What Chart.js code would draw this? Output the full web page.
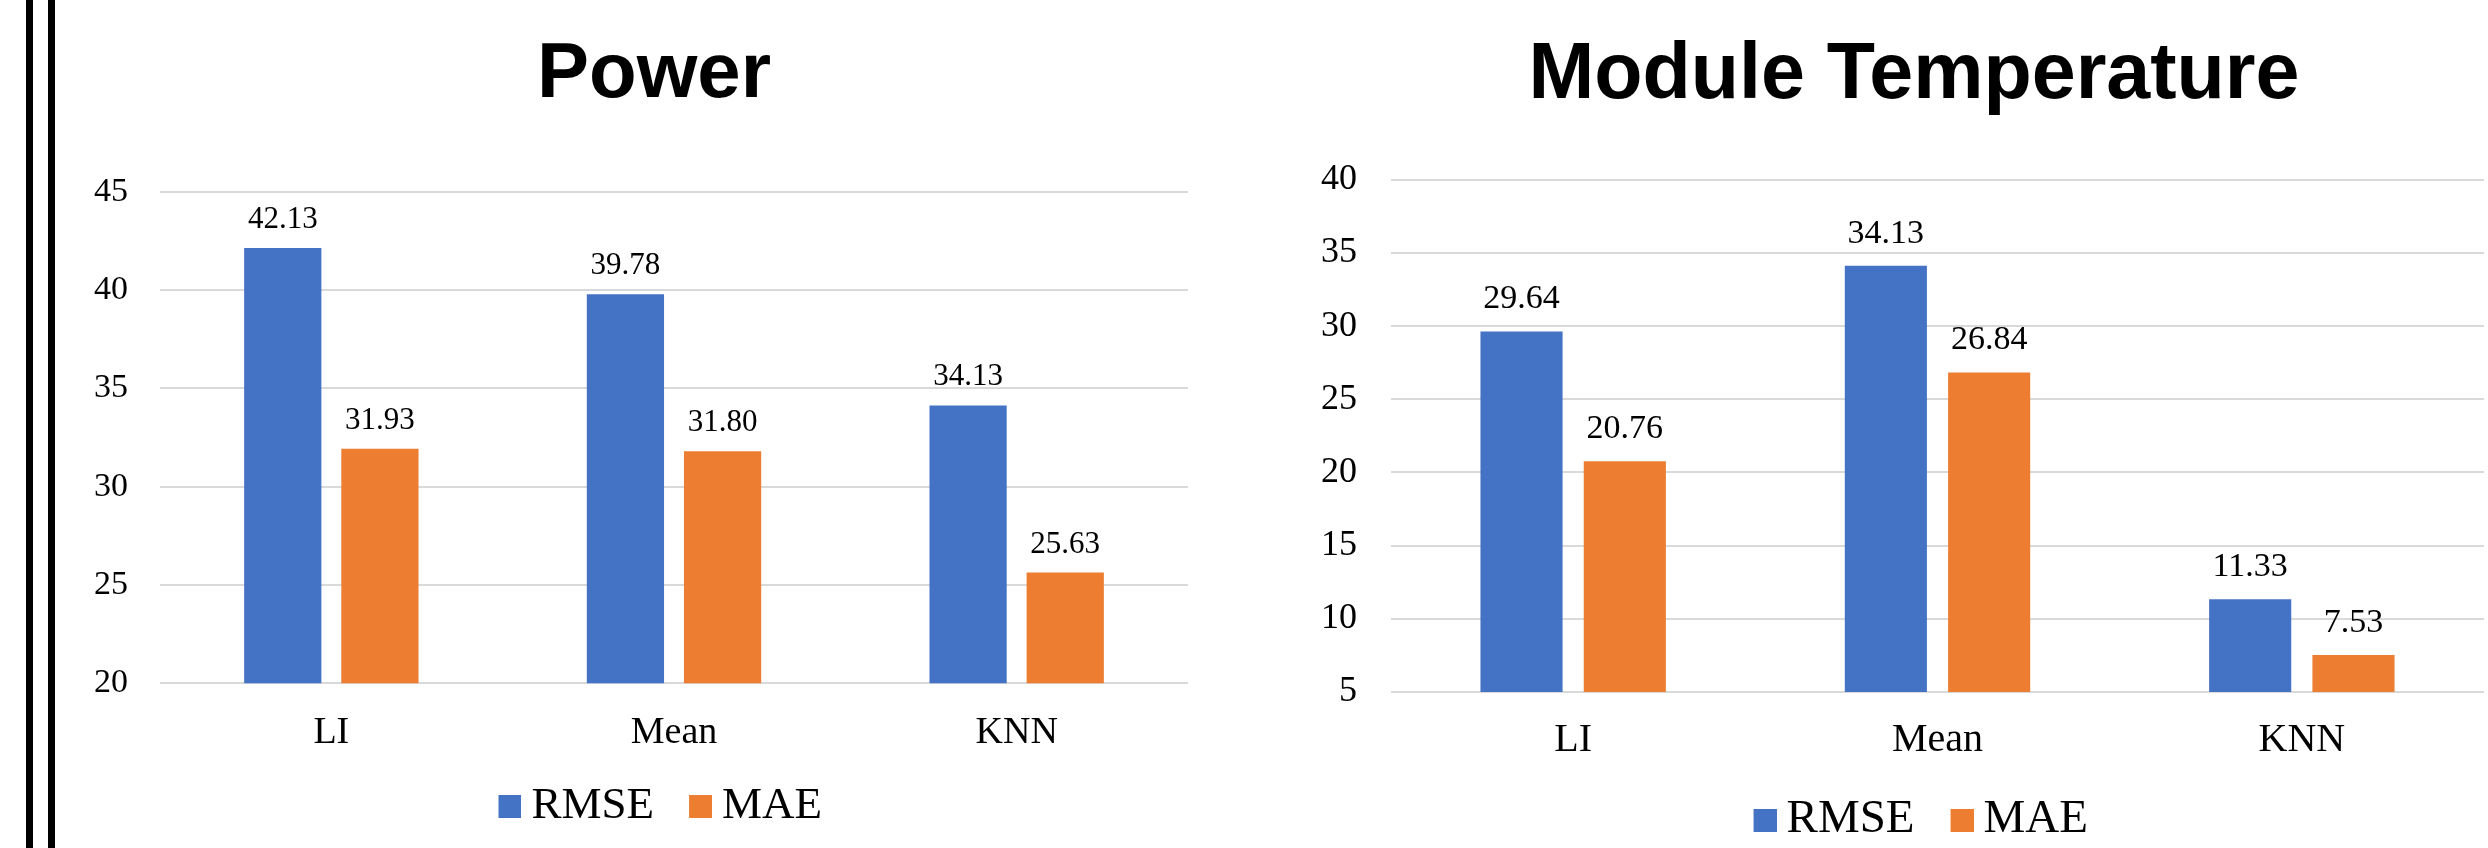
<!DOCTYPE html>
<html>
<head>
<meta charset="utf-8">
<script src="https://cdn.jsdelivr.net/npm/chart.js@4.4.0/dist/chart.umd.min.js"></script>
<style>
  html, body { margin: 0; padding: 0; background: #fff; }
  body { width: 2488px; height: 848px; position: relative; overflow: hidden; }
  .rule { position: absolute; top: 0; width: 7px; height: 848px; background: #000; }
  canvas { position: absolute; top: 0; }
</style>
</head>
<body>
<div class="rule" style="left:26px"></div>
<div class="rule" style="left:48px"></div>
<canvas id="power" width="1308" height="848" style="left:0"></canvas>
<canvas id="temp" width="1228" height="856" style="left:1300px"></canvas>
<script>
// Error metrics of the three imputation methods
const categories = ['LI', 'Mean', 'KNN'];
const seriesNames = ['RMSE', 'MAE'];

const powerRMSE = [42.13, 39.78, 34.13];
const powerMAE  = [31.93, 31.80, 25.63];
const powerTicks = [20, 25, 30, 35, 40, 45];

const tempRMSE = [29.64, 34.13, 11.33];
const tempMAE  = [20.76, 26.84, 7.53];
const tempTicks = [5, 10, 15, 20, 25, 30, 35, 40];

const seriesColors = ['#4472C4', '#ED7D31'];
const SERIF = "'Liberation Serif', 'Times New Roman', serif";
const SANS = "'Liberation Sans', Arial, sans-serif";
const SWATCH = 23;

// Legend swatch: a small square pushed to the right so it sits close to its text
function legendSwatch(color, fontSize) {
  const c = document.createElement('canvas');
  c.width = fontSize + 3;
  c.height = SWATCH;
  const g = c.getContext('2d');
  g.fillStyle = color;
  g.fillRect(c.width - SWATCH, 0, SWATCH, SWATCH);
  return c;
}

// Writes each bar's value just above it
const valueLabels = {
  id: 'valueLabels',
  afterDatasetsDraw(chart, args, opts) {
    const ctx = chart.ctx;
    ctx.save();
    ctx.font = opts.size + 'px ' + SERIF;
    ctx.fillStyle = '#000';
    ctx.textAlign = 'center';
    ctx.textBaseline = 'alphabetic';
    chart.data.datasets.forEach((ds, i) => {
      chart.getDatasetMeta(i).data.forEach((bar, j) => {
        ctx.fillText(ds.data[j].toFixed(2), bar.x, bar.y - opts.gap);
      });
    });
    ctx.restore();
  }
};

function buildChart(id, title, rmse, mae, ticks, s) {
  const swatches = seriesColors.map(c => legendSwatch(c, s.legendFont));
  return new Chart(document.getElementById(id), {
    type: 'bar',
    data: {
      labels: categories,
      datasets: [
        { label: seriesNames[0], data: rmse, backgroundColor: seriesColors[0], yAxisID: 'y' },
        { label: seriesNames[1], data: mae, backgroundColor: seriesColors[1], yAxisID: 'y' }
      ]
    },
    options: {
      responsive: false,
      animation: false,
      devicePixelRatio: 1,
      categoryPercentage: 0.567,
      barPercentage: 0.795,
      layout: { padding: { left: 0, right: 0, top: 0, bottom: s.padBottom } },
      scales: {
        x: {
          grid: { display: false, drawTicks: false },
          border: { display: false },
          ticks: { color: '#000', padding: s.xPad, font: { family: SERIF, size: s.xFont } },
          afterFit(scale) { scale.height = s.xHeight; }
        },
        y: {
          min: ticks[0],
          max: ticks[ticks.length - 1],
          grid: { color: '#D9D9D9', lineWidth: 2, drawTicks: false },
          border: { display: false },
          ticks: { stepSize: ticks[1] - ticks[0], color: '#000', padding: s.yPad,
                   font: { family: SERIF, size: s.yFont } },
          afterFit(scale) { scale.width = s.yWidth; }
        },
        // empty margin on the right so the title and legend sit where they should
        side: {
          type: 'linear',
          position: 'right',
          grid: { display: false, drawTicks: false },
          border: { display: false },
          ticks: { display: false },
          afterFit(scale) { scale.width = s.sideWidth; }
        }
      },
      plugins: {
        title: {
          display: true,
          text: title,
          color: '#000',
          font: { family: SANS, size: s.titleFont, weight: 'bold', lineHeight: 1.2 },
          padding: { top: 29, bottom: s.titleBottom }
        },
        legend: {
          position: 'bottom',
          labels: {
            color: '#000',
            usePointStyle: true,
            boxWidth: SWATCH,
            boxHeight: SWATCH,
            padding: 22.5,
            font: { family: SERIF, size: s.legendFont },
            generateLabels(chart) {
              const items = Chart.defaults.plugins.legend.labels.generateLabels(chart);
              items.forEach((item, i) => { item.pointStyle = swatches[i]; });
              return items;
            }
          }
        },
        tooltip: { enabled: false },
        valueLabels: { size: s.valueFont, gap: s.valueGap }
      }
    },
    plugins: [valueLabels]
  });
}

buildChart('power', 'Power', powerRMSE, powerMAE, powerTicks, {
  padBottom: 9.5,
  yWidth: 160, yPad: 32, yFont: 34, sideWidth: 120,
  xHeight: 77.7, xPad: 27, xFont: 38,
  titleFont: 78, titleBottom: 69,
  legendFont: 45, valueFont: 31, valueGap: 20
});

buildChart('temp', 'Module Temperature', tempRMSE, tempMAE, tempTicks, {
  padBottom: 2.5,
  yWidth: 91, yPad: 34, yFont: 36, sideWidth: 44,
  xHeight: 82, xPad: 24.5, xFont: 40,
  titleFont: 79, titleBottom: 56,
  legendFont: 47, valueFont: 34, valueGap: 23
});
</script>
</body>
</html>
